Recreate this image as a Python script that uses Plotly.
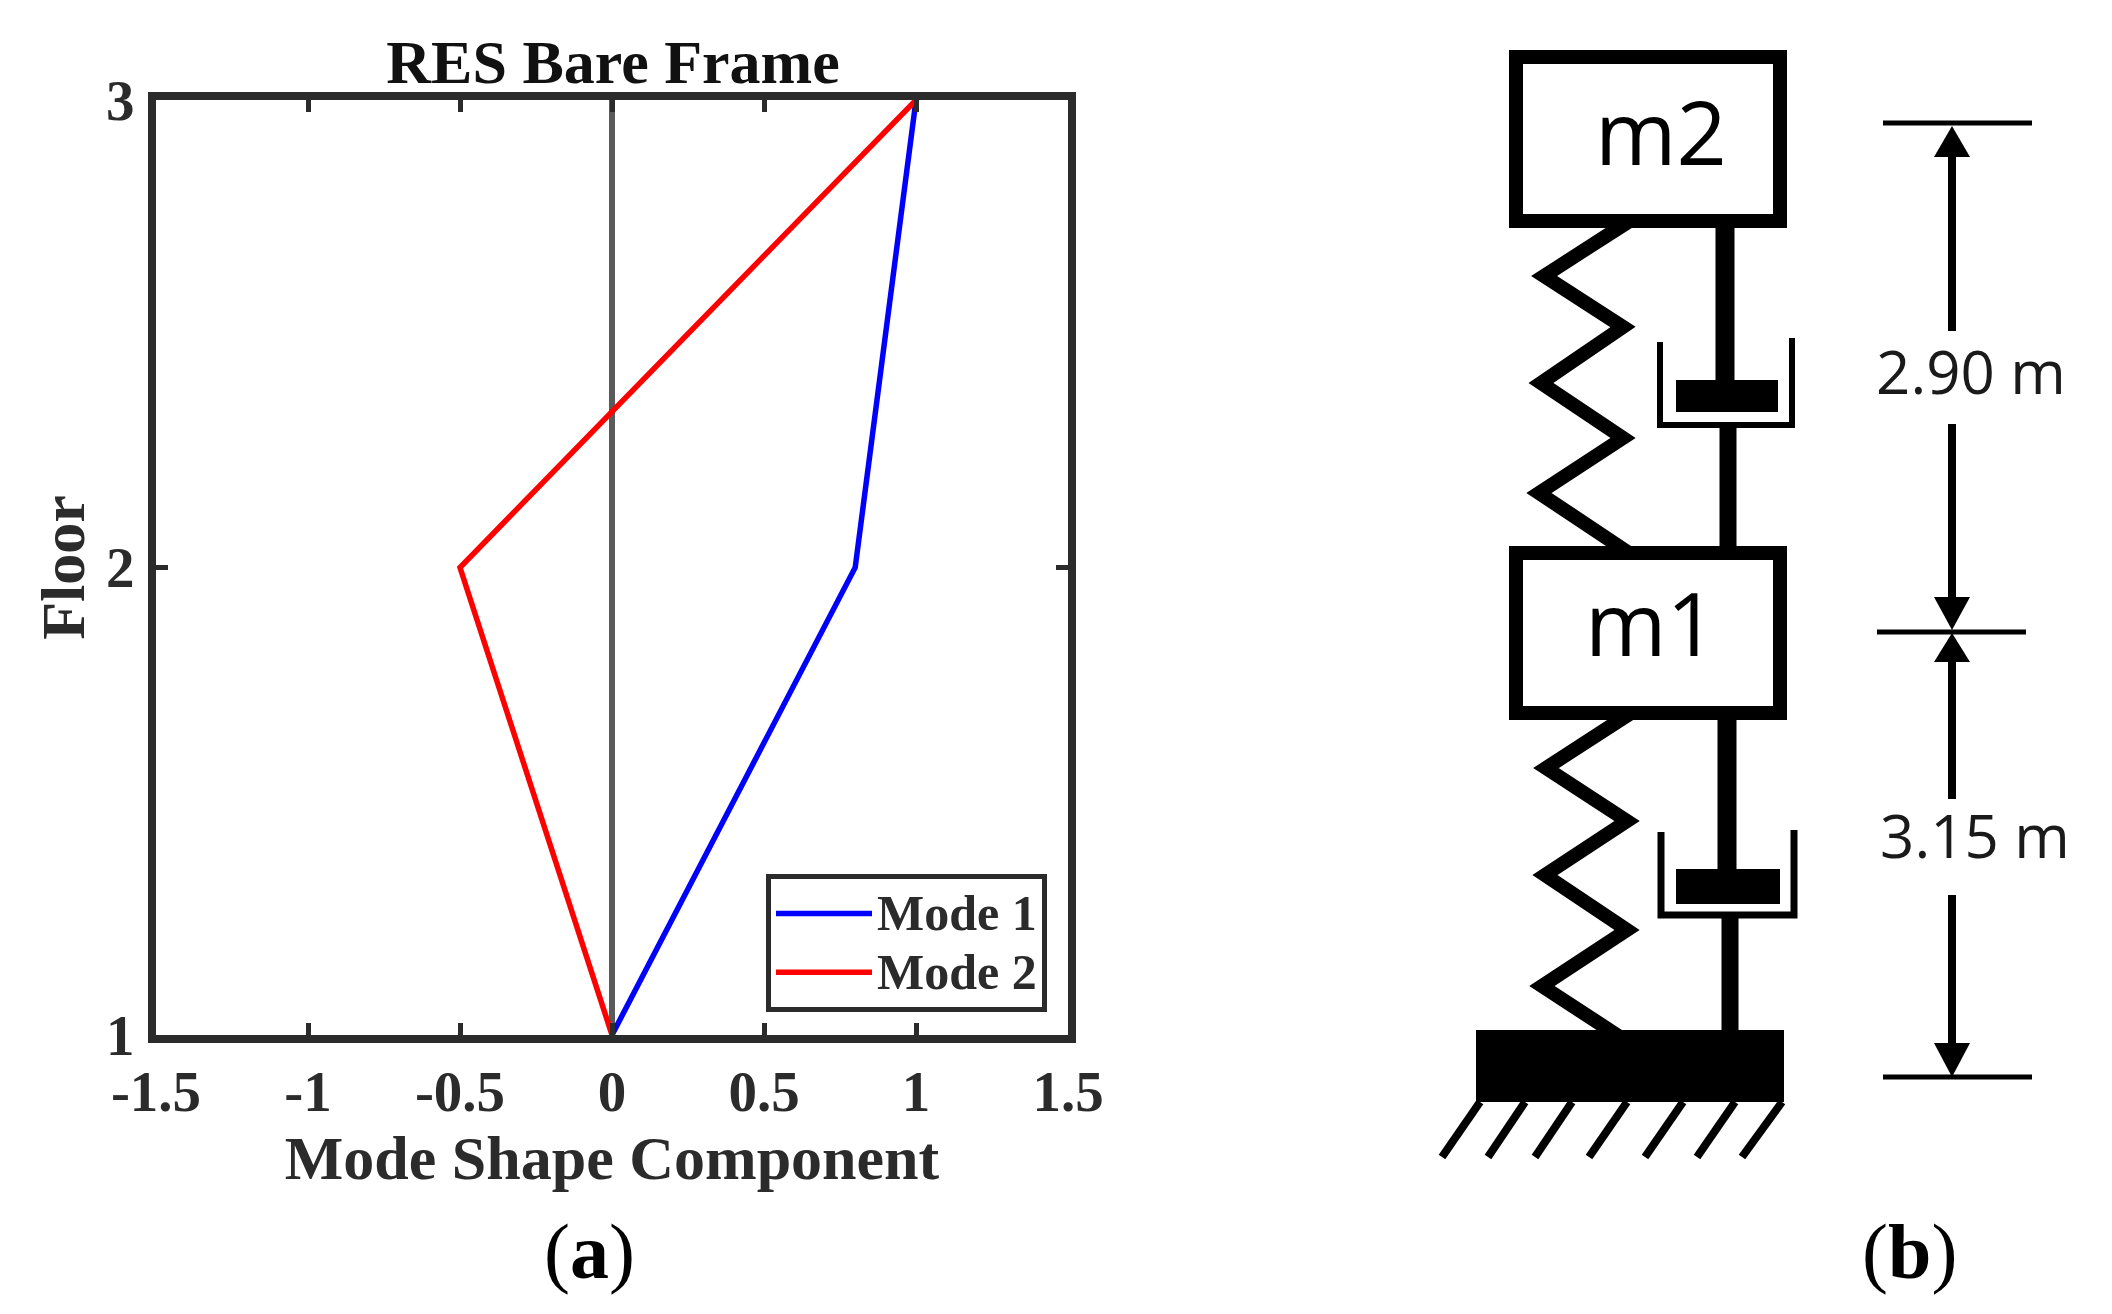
"""RES bare frame mode shapes (a) and 2-DOF spring/damper model (b)."""
import plotly.graph_objects as go

# panel (a)
floors = [1, 2, 3]
mode_1 = [0, 0.8, 1]
mode_2 = [0, -0.5, 1]
x_ticks = [-1.5, -1, -0.5, 0, 0.5, 1, 1.5]
x_labels = ["-1.5", "-1", "-0.5", "0", "0.5", "1", "1.5"]

box_outer_x = [1509, 1787, 1787, 1509, 1509]
box_inner_x = [1523, 1773, 1773, 1523, 1523]
box_m2_outer_y = [50, 50, 228, 228, 50]
box_m2_inner_y = [64, 64, 214, 214, 64]
box_m1_outer_y = [546, 546, 720, 720, 546]
box_m1_inner_y = [560, 560, 706, 706, 560]

spring_up_x = [1628, 1544, 1623, 1541, 1623, 1539, 1629]
spring_up_y = [222, 276, 327, 383, 438, 493, 553]
spring_low_x = [1634, 1546, 1627, 1545, 1627, 1542, 1620]
spring_low_y = [711, 768, 821, 875, 930, 986, 1037]

piston_up_x = [1676, 1778, 1778, 1676, 1676]
piston_up_y = [380, 380, 412, 412, 380]
piston_low_x = [1676, 1780, 1780, 1676, 1676]
piston_low_y = [869, 869, 904, 904, 869]
base_x = [1476, 1784, 1784, 1476, 1476]
base_y = [1030, 1030, 1102, 1102, 1030]

cup_up_x = [1660, 1660, 1792, 1792]
cup_up_y = [342, 425, 425, 338]
cup_low_x = [1661, 1661, 1794, 1794]
cup_low_y = [832, 915, 915, 830]

hatch_top_x = [1480, 1525, 1572, 1627, 1683, 1735, 1782]
hatch_bot_x = [1442, 1488, 1535, 1589, 1645, 1697, 1742]
hatch_top_y = 1102
hatch_bot_y = 1157

dim_x = 1952
dim_left = [1883, 1877, 1883]
dim_right = [2032, 2026, 2032]
dim_y = [123, 632, 1077]
shaft_from = [157, 424, 662, 895]
shaft_to = [331, 597, 799, 1043]
arrow_tips = [126, 630, 633, 1077]
arrow_bases = [157, 597, 662, 1043]

FRAME = "#2b2b2b"
SERIF = "Liberation Serif"
SANS = "Open Sans"


def schematic(x, y, width=None, fill=None):
    if fill:
        return go.Scatter(x=x, y=y, xaxis="x2", yaxis="y2", mode="lines", fill="toself",
                          fillcolor=fill, line=dict(color=fill, width=0),
                          showlegend=False, hoverinfo="skip")
    return go.Scatter(x=x, y=y, xaxis="x2", yaxis="y2", mode="lines",
                      line=dict(color="black", width=width),
                      showlegend=False, hoverinfo="skip")


def legend_name(text):
    return f'<span style="font-size:50px"><b>{text}</b></span>'


fig = go.Figure()
fig.add_trace(go.Scatter(x=mode_1, y=floors, name=legend_name("Mode 1"), mode="lines",
                         line=dict(color="#0000ff", width=5.5)))
fig.add_trace(go.Scatter(x=mode_2, y=floors, name=legend_name("Mode 2"), mode="lines",
                         line=dict(color="#ff0000", width=5.5)))

# springs
fig.add_trace(schematic(spring_up_x, spring_up_y, 14))
fig.add_trace(schematic(spring_low_x, spring_low_y, 14))

# masses
fig.add_trace(schematic(box_outer_x, box_m2_outer_y, fill="black"))
fig.add_trace(schematic(box_inner_x, box_m2_inner_y, fill="white"))
fig.add_trace(schematic(box_outer_x, box_m1_outer_y, fill="black"))
fig.add_trace(schematic(box_inner_x, box_m1_inner_y, fill="white"))

# dampers
fig.add_trace(schematic([1725, 1725], [228, 381], 19))
fig.add_trace(schematic([1728, 1728], [425, 546], 17))
fig.add_trace(schematic([1727, 1727], [720, 870], 19))
fig.add_trace(schematic([1730, 1730], [916, 1030], 17))
fig.add_trace(schematic(piston_up_x, piston_up_y, fill="black"))
fig.add_trace(schematic(piston_low_x, piston_low_y, fill="black"))
fig.add_trace(schematic(cup_up_x, cup_up_y, 6))
fig.add_trace(schematic(cup_low_x, cup_low_y, 7))

# ground
fig.add_trace(schematic(base_x, base_y, fill="black"))
for top, bot in zip(hatch_top_x, hatch_bot_x):
    fig.add_trace(schematic([top, bot], [hatch_top_y, hatch_bot_y], 8))

# dimension lines
for left, right, y in zip(dim_left, dim_right, dim_y):
    fig.add_trace(schematic([left, right], [y, y], 5))
for start, end in zip(shaft_from, shaft_to):
    fig.add_trace(schematic([dim_x, dim_x], [start, end], 8))
for tip, base in zip(arrow_tips, arrow_bases):
    fig.add_trace(schematic([dim_x - 18, dim_x, dim_x + 18, dim_x - 18], [base, tip, base, base], fill="black"))

fig.add_trace(go.Scatter(x=[1661, 1651], y=[143, 634], text=["m2", "m1"], mode="text",
                         xaxis="x2", yaxis="y2", showlegend=False, hoverinfo="skip",
                         textfont=dict(family=SANS, size=88, color="black")))
fig.add_trace(go.Scatter(x=[1971, 1975], y=[379, 843], text=["2.90 m", "3.15 m"], mode="text",
                         xaxis="x2", yaxis="y2", showlegend=False, hoverinfo="skip",
                         textfont=dict(family=SANS, size=60, color="#1a1a1a")))

fig.update_layout(
    template="none",
    width=2112, height=1314,
    margin=dict(l=0, r=0, t=0, b=0, pad=0),
    paper_bgcolor="white", plot_bgcolor="rgba(0,0,0,0)",
    font=dict(family=SERIF, color=FRAME),
    title=dict(text="<b>RES Bare Frame</b>", x=613 / 2112, xanchor="center", y=1 - 61 / 1314,
               yanchor="middle", font=dict(family=SERIF, size=62, color="#111111")),
    xaxis=dict(domain=[156 / 2112, 1068 / 2112], range=[-1.5, 1.5], tickmode="array",
               automargin=False,
               tickvals=x_ticks, ticktext=[f"<b>{t}</b>" for t in x_labels],
               ticks="inside", ticklen=12, tickwidth=5, tickcolor=FRAME,
               showline=True, linewidth=8, linecolor=FRAME, mirror="allticks",
               showgrid=False, zeroline=True, zerolinecolor="#5a5a5a", zerolinewidth=6,
               tickfont=dict(size=57, color=FRAME), ticklabelstandoff=0,
               title=dict(text="<b>Mode Shape Component</b>", standoff=16,
                          font=dict(size=62, color=FRAME))),
    yaxis=dict(domain=[1 - 1035 / 1314, 1 - 100 / 1314], range=[1, 3], tickmode="array",
               automargin=False,
               tickvals=floors, ticktext=[f"<b>{f}</b>" for f in floors],
               ticks="inside", ticklen=12, tickwidth=5, tickcolor=FRAME,
               showline=True, linewidth=8, linecolor=FRAME, mirror="allticks",
               showgrid=False, zeroline=False,
               tickfont=dict(size=57, color=FRAME), ticklabelstandoff=2,
               title=dict(text="<b>Floor</b>", standoff=4, font=dict(size=62, color=FRAME))),
    xaxis2=dict(domain=[0, 1], range=[0, 2112], visible=False, anchor="y2", automargin=False),
    yaxis2=dict(domain=[0, 1], range=[1314, 0], visible=False, anchor="x2", automargin=False),
    legend=dict(x=1047 / 2112, xanchor="right", y=1 - 1012 / 1314, yanchor="bottom", bgcolor="white",
                bordercolor=FRAME, borderwidth=5, itemwidth=96,
                font=dict(family=SERIF, size=43, color=FRAME), traceorder="normal"),
    annotations=[
        dict(text="(<b>a</b>)", x=589 / 2112, y=1 - 1251 / 1314, xref="paper", yref="paper",
             xanchor="center", yanchor="middle", showarrow=False,
             font=dict(family=SERIF, size=78, color="black")),
        dict(text="(<b>b</b>)", x=1909 / 2112, y=1 - 1251 / 1314, xref="paper", yref="paper",
             xanchor="center", yanchor="middle", showarrow=False,
             font=dict(family=SERIF, size=78, color="black")),
    ],
)

fig.write_html("out.html", config={"displayModeBar": False},
               post_script="document.body.style.margin='0';")
